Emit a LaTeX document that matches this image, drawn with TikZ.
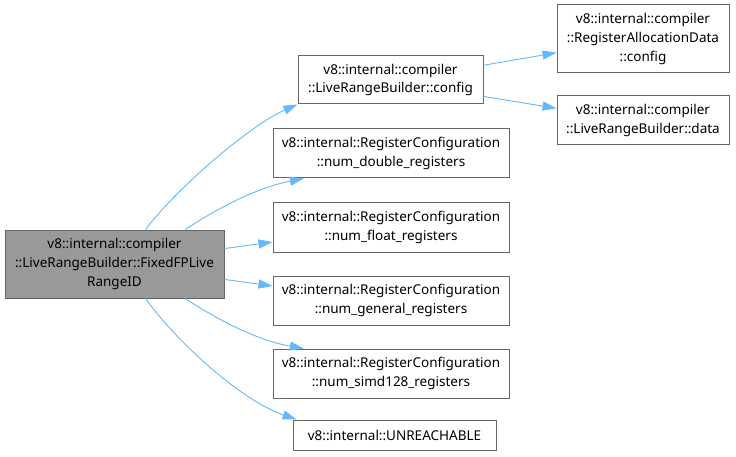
\documentclass[tikz,border=0pt]{standalone}
\usepackage{fontspec}
\setmainfont{Noto Sans}
\usetikzlibrary{arrows.meta}
\definecolor{edgeblue}{HTML}{63B8FF}
\definecolor{boxgray}{HTML}{666666}
\definecolor{mainfill}{HTML}{999999}
\begin{document}
\begin{tikzpicture}[x=1pt,y=-1pt,
  fn/.style={draw=boxgray,line width=1pt,fill=white,inner sep=0pt,align=center,
    font=\fontsize{13.5}{18.7}\selectfont},
  call/.style={draw=edgeblue,line width=0.9pt,-{Triangle[length=14pt,width=9pt]}}]
 \useasboundingbox (0,0) rectangle (736,457);
 \node[fn,fill=mainfill,minimum width=219pt,minimum height=68pt] (main) at (114.5,264)
   {v8::internal::compiler\\::LiveRangeBuilder::FixedFPLive\\RangeID};
 \node[fn,minimum width=185pt,minimum height=48pt] (cfg) at (390.5,80)
   {v8::internal::compiler\\::LiveRangeBuilder::config};
 \node[fn,minimum width=236pt,minimum height=49pt] (nd) at (391,153.5)
   {v8::internal::RegisterConfiguration\\::num\_double\_registers};
 \node[fn,minimum width=236pt,minimum height=49pt] (nf) at (391,227.5)
   {v8::internal::RegisterConfiguration\\::num\_float\_registers};
 \node[fn,minimum width=236pt,minimum height=49pt] (ng) at (391,300.5)
   {v8::internal::RegisterConfiguration\\::num\_general\_registers};
 \node[fn,minimum width=236pt,minimum height=49pt] (ns) at (391,373.5)
   {v8::internal::RegisterConfiguration\\::num\_simd128\_registers};
 \node[fn,minimum width=203pt,minimum height=30pt] (un) at (394.5,435)
   {v8::internal::UNREACHABLE};
 \node[fn,minimum width=172pt,minimum height=68pt] (rad) at (643,39)
   {v8::internal::compiler\\::RegisterAllocationData\\::config};
 \node[fn,minimum width=172pt,minimum height=49pt] (dat) at (643,120.5)
   {v8::internal::compiler\\::LiveRangeBuilder::data};
 \draw[call] (main.48) .. controls (175,190) and (250,125) .. (cfg.south west);
 \draw[call] (main.26) .. controls (215,210) and (255,188) .. (nd.196);
 \draw[call] (main.8) -- (nf.187);
 \draw[call] (main.-8) -- (ng.173);
 \draw[call] (main.-26) .. controls (215,318) and (255,340) .. (ns.164);
 \draw[call] (main.-48) .. controls (175,340) and (240,400) .. (un.171);
 \draw[call] (cfg.9) -- (rad.189);
 \draw[call] (cfg.-10) -- (dat.172);
\end{tikzpicture}
\end{document}
